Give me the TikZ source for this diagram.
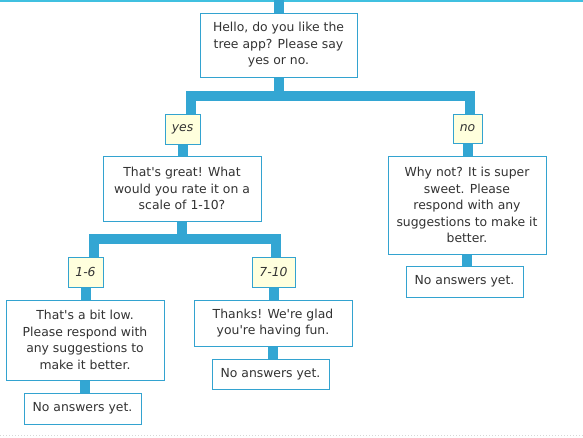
\documentclass[tikz,border=0pt]{standalone}
\usepackage{fontspec}
\setmainfont{DejaVu Sans}
\definecolor{branch}{RGB}{51,166,211}
\definecolor{boxline}{RGB}{51,163,208}
\definecolor{tagfill}{RGB}{255,255,221}
\definecolor{txt}{RGB}{51,51,51}
\definecolor{topline}{RGB}{64,192,224}
\definecolor{footline}{RGB}{215,215,215}
\begin{document}
\begin{tikzpicture}[
        x=1pt, y=-1pt,
        answer/.style={rectangle, draw=boxline, line width=1pt, fill=white, text=txt,
            align=center, inner sep=0pt, font=\fontsize{12.4}{16.5}\selectfont},
        tag/.style={answer, fill=tagfill, font=\itshape\fontsize{12.4}{16.5}\selectfont},
        edge/.style={draw=branch, line width=10pt, line join=miter},
    ]
    \useasboundingbox (0,0) rectangle (583,437);
    \draw[topline, line width=1.5pt] (0,0.75) -- (583,0.75);
    \draw[footline, line width=1pt, dotted] (0,435.5) -- (583,435.5);

    \coordinate (top) at (278.5,0);
    \node[answer, minimum width=157pt, minimum height=64pt](hello) at (278.5,45)
        {Hello, do you like the\\tree app? Please say\\yes or no.};
    \node[tag, minimum width=35pt, minimum height=30pt](yes) at (182.5,129){yes};
    \node[tag, minimum width=29pt, minimum height=29pt](no) at (467.5,128.5){no};
    \node[answer, minimum width=158pt, minimum height=65pt](great) at (182,188.5)
        {That\textquotesingle s great! What\\would you rate it on a\\scale of 1-10?};
    \node[answer, minimum width=158pt, minimum height=98pt](whynot) at (467,205)
        {Why not? It is super\\sweet. Please\\respond with any\\suggestions to make it\\better.};
    \node[answer, minimum width=117pt, minimum height=31pt](noans3) at (464.5,281.5){No answers yet.};
    \node[tag, minimum width=35pt, minimum height=30pt](low tag) at (85.5,272){1-6};
    \node[tag, minimum width=43pt, minimum height=30pt](high tag) at (273.5,272){7-10};
    \node[answer, minimum width=158pt, minimum height=80pt](low) at (85,340)
        {That\textquotesingle s a bit low.\\Please respond with\\any suggestions to\\make it better.};
    \node[answer, minimum width=158pt, minimum height=46pt](thanks) at (273,323)
        {Thanks! We\textquotesingle re glad\\you\textquotesingle re having fun.};
    \node[answer, minimum width=117pt, minimum height=31pt](noans1) at (82.5,408.5){No answers yet.};
    \node[answer, minimum width=117pt, minimum height=30pt](noans2) at (270.5,374){No answers yet.};

    % branches
    \draw[edge] (top) -- (hello.north);
    \draw[edge] (hello.south) -- ++(0,18) -| ([xshift=8.5pt]yes.north);
    \draw[edge] (hello.south) -- ++(0,18) -| ([xshift=2pt]no.north);
    \draw[edge] (yes.south) -- (yes.south |- great.north);
    \draw[edge] (no.south) -- (no.south |- whynot.north);
    \draw[edge] (whynot.south) -- (whynot.south |- noans3.north);
    \draw[edge] (great.south) -- ++(0,17) -| ([xshift=8.5pt]low tag.north);
    \draw[edge] (great.south) -- ++(0,17) -| ([xshift=2.5pt]high tag.north);
    \draw[edge] (low tag.south) -- (low tag.south |- low.north);
    \draw[edge] (high tag.south) -- (high tag.south |- thanks.north);
    \draw[edge] (low.south) -- (low.south |- noans1.north);
    \draw[edge] (thanks.south) -- (thanks.south |- noans2.north);

\end{tikzpicture}
\end{document}
